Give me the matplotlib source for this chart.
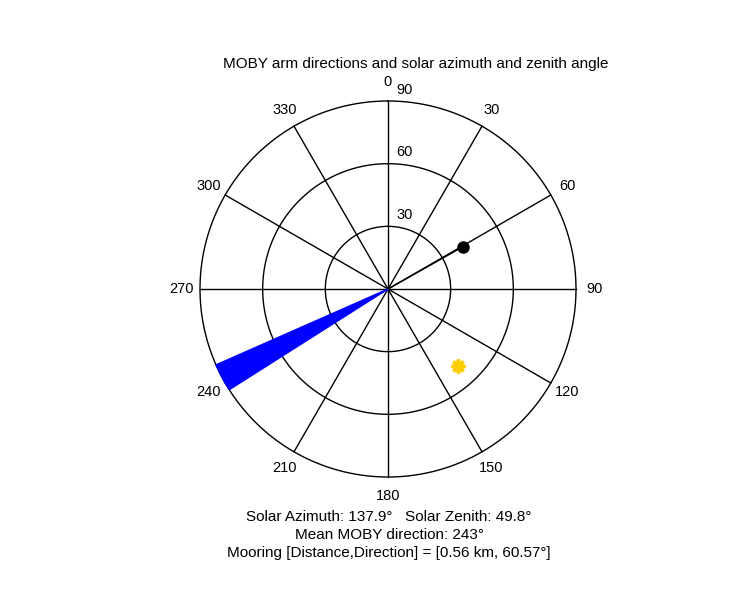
import numpy as np
import matplotlib.pyplot as plt

spoke_angles = np.arange(0, 360, 30)
ring_radii = [30, 60, 90]
moby_wedge = [237.6, 246.2]
mooring_dir, mooring_r = 60.57, 41.4
sun_az, sun_zen = 137.9, 49.8
info_lines = ["Solar Azimuth: 137.9\u00b0   Solar Zenith: 49.8\u00b0",
              "Mean MOBY direction: 243\u00b0",
              "Mooring [Distance,Direction] = [0.56 km, 60.57\u00b0]"]

def xy(az, r):
    a = np.deg2rad(az)
    return r * np.sin(a), r * np.cos(a)

plt.rcParams['font.family'] = ['Liberation Sans', 'DejaVu Sans']
fig = plt.figure(figsize=(7.5, 6), dpi=100)
s = 188 / 90  # px per unit
xh, yl, yh = 110, 140, 135
ax = fig.add_axes([(388 - xh * s) / 750, (311 - yl * s) / 600, 2 * xh * s / 750, (yl + yh) * s / 600])
ax.set_xlim(-xh, xh); ax.set_ylim(-yl, yh); ax.axis('off')

t = np.linspace(0, 360, 400)
for r in ring_radii:
    x, y = xy(t, r)
    ax.plot(x, y, color='black', lw=1)
for a in spoke_angles[:6]:
    x, y = xy(np.array([a, a + 180]), 90)
    ax.plot(x, y, color='black', lw=1)
for a in spoke_angles:
    x, y = xy(a, 99)
    ax.text(x, y, str(a), ha='center', va='center', fontsize=10.5)
for r in ring_radii:
    ax.text(8, r + 5.5, str(r), ha='center', va='center', fontsize=10.5)

w = np.linspace(moby_wedge[0], moby_wedge[1], 20)
wx, wy = xy(w, 90)
ax.fill(np.r_[0, wx], np.r_[0, wy], color='blue', zorder=3)

mx, my = xy(mooring_dir, mooring_r)
ax.plot([0, mx], [0, my], color='black', lw=1)
ax.plot(mx, my, 'o', color='black', ms=8)
sx, sy = xy(sun_az, sun_zen)
ax.plot(sx, sy, marker=(8, 2, 0), color='#ffcc00', ms=10, mew=2.5)

fig.text(416 / 750, 1 - 64 / 600, "MOBY arm directions and solar azimuth and zenith angle",
         ha='center', va='center', fontsize=11)
for i, line in enumerate(info_lines):
    fig.text(389 / 750, 1 - (517 + 18 * i) / 600, line, ha='center', va='center', fontsize=11)

fig.savefig('out.png', dpi=100)
